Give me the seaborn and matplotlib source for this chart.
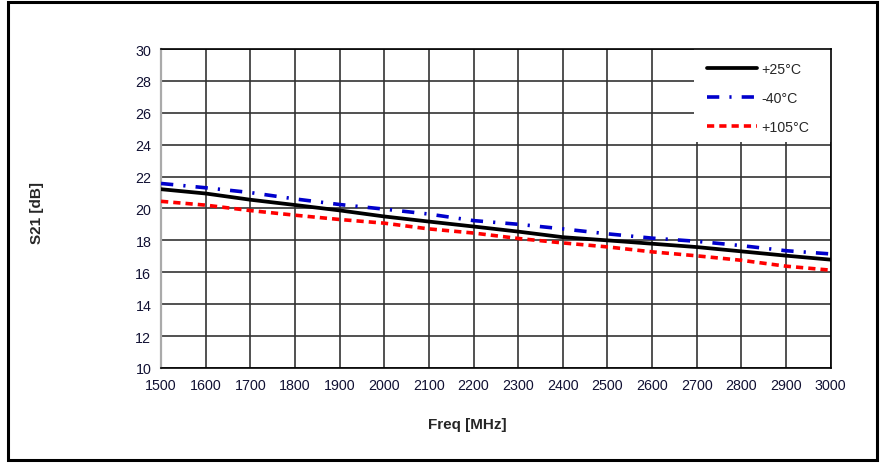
import pandas as pd
import numpy as np
import matplotlib
matplotlib.use('Agg')
import matplotlib.pyplot as plt
from matplotlib.patches import Rectangle
import seaborn as sns

# =============================================================================
# Data (S21 vs frequency at three temperatures)
# =============================================================================
freq_mhz = [1500, 1600, 1700, 1800, 1900, 2000, 2100, 2200,
            2300, 2400, 2500, 2600, 2700, 2800, 2900, 3000]
s21_25c = [21.21, 20.94, 20.55, 20.22, 19.88, 19.50, 19.18, 18.87,
           18.55, 18.20, 18.00, 17.79, 17.58, 17.31, 17.04, 16.79]
s21_m40c = [21.57, 21.30, 21.00, 20.60, 20.25, 19.96, 19.65, 19.24,
            19.01, 18.72, 18.41, 18.14, 17.94, 17.67, 17.35, 17.15]
s21_105c = [20.45, 20.21, 19.87, 19.58, 19.31, 19.08, 18.72, 18.46,
            18.12, 17.84, 17.59, 17.28, 17.03, 16.75, 16.38, 16.13]

series_labels = ['+25°C', '-40°C', '+105°C']
x_ticks = list(range(1500, 3001, 100))
y_ticks = list(range(10, 31, 2))

df = pd.DataFrame({
    'Freq': freq_mhz * 3,
    'S21': s21_25c + s21_m40c + s21_105c,
    'Temp': [series_labels[0]] * 16 + [series_labels[1]] * 16 + [series_labels[2]] * 16,
})

# =============================================================================
# Figure
# =============================================================================
sns.set_style('white')
plt.rcParams['font.family'] = ['Liberation Sans', 'DejaVu Sans']

fig = plt.figure(figsize=(8.8, 4.64), dpi=100)
ax = fig.add_axes([0.183, 0.205, 0.761, 0.687])
ax.set_axisbelow(True)

styles = {
    '+25°C': dict(color='black', lw=2.7, ls='-'),
    '-40°C': dict(color='#0000cc', lw=2.6, ls=(0, (3.4, 2.8, 0.6, 2.8))),
    '+105°C': dict(color='#ff0000', lw=2.6, ls=(0, (2.0, 1.4))),
}
for lab in series_labels:
    sub = df[df['Temp'] == lab]
    st = styles[lab]
    sns.lineplot(data=sub, x='Freq', y='S21', ax=ax, label=lab,
                 color=st['color'], linewidth=st['lw'], linestyle=st['ls'],
                 zorder=3)

ax.set_xlim(1500, 3000)
ax.set_ylim(10, 30)
ax.set_xticks(x_ticks)
ax.set_yticks(y_ticks)
ax.grid(True, color='#333333', linewidth=1.2)
ax.tick_params(axis='both', direction='out', length=4, width=1,
               color='black', labelsize=10.3, labelcolor='#111133', pad=3)

for side in ['top', 'right', 'bottom']:
    ax.spines[side].set_color('black')
    ax.spines[side].set_linewidth(1.2)
ax.spines['left'].set_color('#aaaaaa')
ax.spines['left'].set_linewidth(1.6)

ax.set_xlabel('Freq [MHz]', fontsize=11, fontweight='bold')
ax.set_ylabel('S21 [dB]', fontsize=11, fontweight='bold')
ax.xaxis.set_label_coords(0.457, -0.155)
ax.yaxis.set_label_coords(-0.175, 0.49)

# white block behind the legend that hides the grid
ax.add_patch(Rectangle((0.7955, 0.71), 0.2045, 0.29, transform=ax.transAxes,
                       facecolor='white', edgecolor='none', zorder=1.5))
leg = ax.legend(loc='upper left', bbox_to_anchor=(0.816, 0.96), frameon=False,
                fontsize=10.2, handlelength=3.5, handletextpad=0.3,
                labelspacing=1.05, borderpad=0, borderaxespad=0)

# outer frame around the whole chart
fig.patches.append(Rectangle((0.009, 0.006), 0.988, 0.987, transform=fig.transFigure,
                             fill=False, edgecolor='black', linewidth=2.2))

plt.savefig('out.png', dpi=100)
plt.close()
